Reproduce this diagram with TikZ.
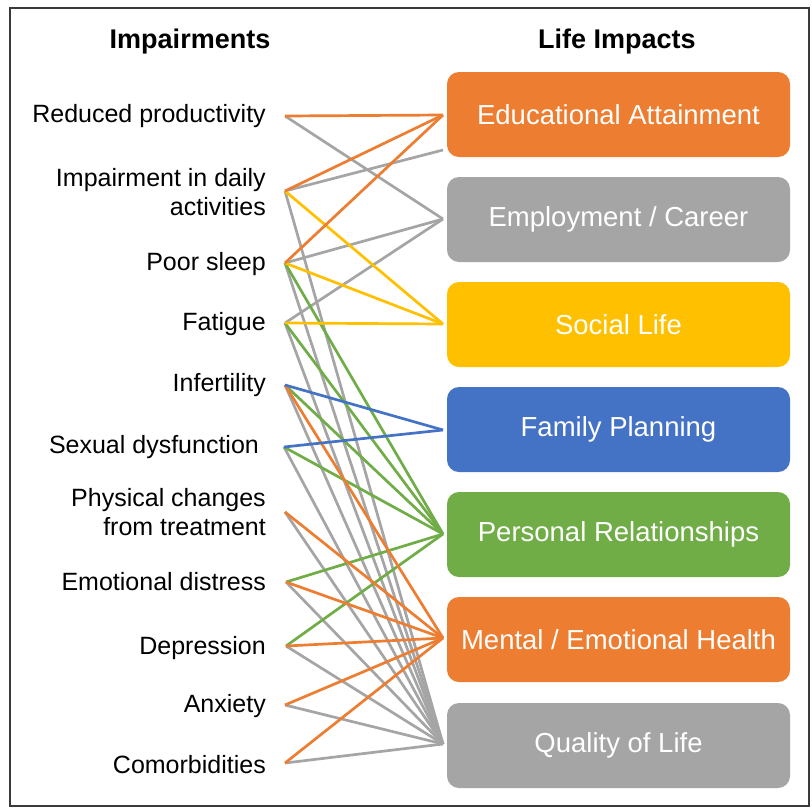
\documentclass[tikz,border=0pt]{standalone}
\usepackage{fontspec}
\setmainfont{Liberation Sans}
\definecolor{cOrange}{HTML}{ED7D31}
\definecolor{cGray}{HTML}{A5A5A5}
\definecolor{cYellow}{HTML}{FFC000}
\definecolor{cBlue}{HTML}{4472C4}
\definecolor{cGreen}{HTML}{70AD47}
\definecolor{cFrame}{HTML}{3A3A3A}
\begin{document}
\begin{tikzpicture}[x=1pt,y=-1pt,
  lefttext/.style={anchor=east,align=right,inner sep=0pt,font=\fontsize{25}{29}\selectfont},
  headtext/.style={inner sep=0pt,font=\fontsize{27}{30}\selectfont\bfseries},
  impactbox/.style={draw=none,rounded corners=12pt,minimum width=343pt,minimum height=85pt,
    inner sep=0pt,text=white,font=\fontsize{27.5}{30}\selectfont},
  link/.style={line width=2.7pt},
]
\useasboundingbox (0,0) rectangle (812,812);
\fill[white] (0,0) rectangle (812,812);
\draw[cFrame,line width=2pt] (10,8) rectangle (809,806);

% headers
\node[headtext] (h1) at (190,42) {Impairments};
\node[headtext] (h2) at (617,42) {Life Impacts};

% left items
\node[lefttext] (l1) at (266,116) {Reduced productivity};
\node[lefttext] (l2) at (266,192) {Impairment in daily\\activities};
\node[lefttext] (l3) at (266,264) {Poor sleep};
\node[lefttext] (l4) at (266,324) {Fatigue};
\node[lefttext] (l5) at (266,385) {Infertility};
\node[lefttext] (l6) at (266,447) {Sexual dysfunction\ };
\node[lefttext] (l7) at (266,512) {Physical changes\\from treatment};
\node[lefttext] (l8) at (266,582) {Emotional distress};
\node[lefttext] (l9) at (266,648) {Depression};
\node[lefttext] (l10) at (266,706) {Anxiety};
\node[lefttext] (l11) at (266,765) {Comorbidities};

% left anchors
\coordinate (a1) at (285,116);
\coordinate (a2) at (285,191);
\coordinate (a3) at (285,263);
\coordinate (a4) at (285,323);
\coordinate (a5) at (285,385);
\coordinate (a6) at (284,447);
\coordinate (a7) at (285,512);
\coordinate (a8) at (286,582);
\coordinate (a9) at (286,646);
\coordinate (a10) at (285,705);
\coordinate (a11) at (285,763);

% right anchors
\coordinate (b1) at (443,115);
\coordinate (b1low) at (443,150);
\coordinate (b2) at (443,219);
\coordinate (b3) at (443,324);
\coordinate (b4) at (443,430);
\coordinate (b5) at (443,534);
\coordinate (b6) at (443,638);
\coordinate (b7) at (443,744);

% gray links
\foreach \s in {a2,a3,a4,a5,a6,a7,a8,a9,a10,a11}
  \draw[link,cGray] (\s) -- (b7);
\foreach \s in {a1,a3,a4}
  \draw[link,cGray] (\s) -- (b2);
\draw[link,cGray] (a2) -- (b1low);
% green
\foreach \s in {a3,a4,a5,a6,a8,a9}
  \draw[link,cGreen] (\s) -- (b5);
% orange to mental health
\foreach \s in {a5,a7,a8,a9,a10,a11}
  \draw[link,cOrange] (\s) -- (b6);
% blue
\foreach \s in {a5,a6}
  \draw[link,cBlue] (\s) -- (b4);
% yellow
\foreach \s in {a2,a3,a4}
  \draw[link,cYellow] (\s) -- (b3);
% orange to education
\foreach \s in {a1,a2,a3}
  \draw[link,cOrange] (\s) -- (b1);

% boxes
\node[impactbox,fill=cOrange] (r1) at (618.5,114.5) {Educational Attainment};
\node[impactbox,fill=cGray] (r2) at (618.5,219.5) {Employment / Career};
\node[impactbox,fill=cYellow] (r3) at (618.5,324.5) {Social Life};
\node[impactbox,fill=cBlue] (r4) at (618.5,429.5) {Family Planning};
\node[impactbox,fill=cGreen] (r5) at (618.5,534.5) {Personal Relationships};
\node[impactbox,fill=cOrange] (r6) at (618.5,639.5) {Mental / Emotional Health};
\node[impactbox,fill=cGray] (r7) at (618.5,745.5) {Quality of Life};
\end{tikzpicture}
\end{document}
